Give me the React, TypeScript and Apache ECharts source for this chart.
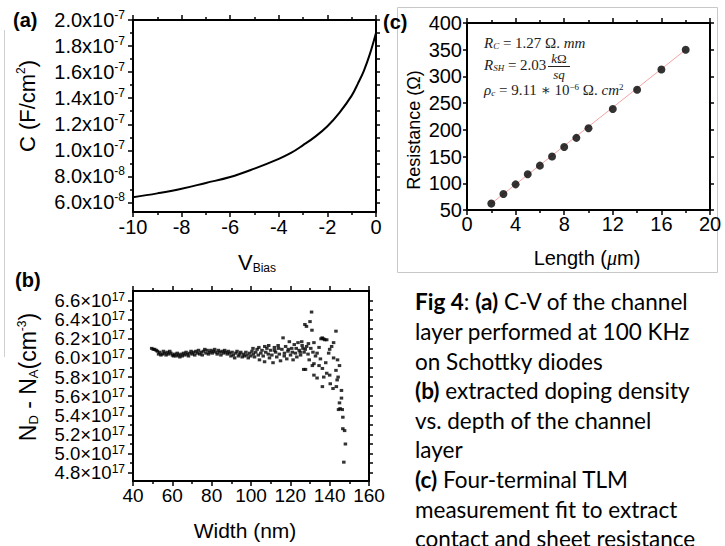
import React, { useEffect, useRef } from "react";
import * as echarts from "echarts";

// (a) C-V curve, capacitance in units of 1e-8 F/cm²
const biasVoltage = [-10, -9, -8, -7, -6, -5, -4, -3.5, -3, -2.5, -2, -1.5, -1, -0.75, -0.5, -0.25, 0];
const capacitance = [6.4, 6.7, 7.05, 7.5, 7.95, 8.6, 9.35, 9.8, 10.4, 11.05, 11.85, 12.9, 14.2, 15.1, 16.1, 17.4, 19.0];
const capTicks = [6, 8, 10, 12, 14, 16, 18, 20];
const capMinorTicks = [7, 9, 11, 13, 15, 17, 19];
const capAllTicks = [6, 7, 8, 9, 10, 11, 12, 13, 14, 15, 16, 17, 18, 19, 20];

// (b) doping profile: [width nm, N_D - N_A in 1e17 cm^-3]
const dopingPoints: [number, number][] = [
  [49.5, 6.10], [50.3, 6.09], [51.0, 6.09], [51.8, 6.08], [52.4, 6.07], [53.0, 6.04], [53.6, 6.06], [54.2, 6.03],
  [54.9, 6.04], [55.5, 6.07], [56.1, 6.05], [56.8, 6.03], [57.4, 6.06], [58.0, 6.04], [58.7, 6.07], [59.3, 6.05],
  [60.0, 6.03], [60.6, 6.02], [61.2, 6.04], [61.9, 6.02], [62.5, 6.05], [63.1, 6.03], [63.8, 6.01], [64.4, 6.04],
  [65.0, 6.02], [65.7, 6.05], [66.3, 6.03], [67.0, 6.06], [67.6, 6.04], [68.2, 6.02], [68.9, 6.05], [69.5, 6.07],
  [70.1, 6.04], [70.8, 6.06], [71.4, 6.03], [72.0, 6.07], [72.7, 6.05], [73.3, 6.08], [73.9, 6.04], [74.6, 6.06],
  [75.2, 6.03], [75.8, 6.07], [76.5, 6.09], [77.1, 6.05], [77.7, 6.08], [78.4, 6.04], [79.0, 6.06], [79.6, 6.08],
  [80.3, 6.05], [80.9, 6.07], [81.5, 6.09], [82.2, 6.06], [82.8, 6.04], [83.4, 6.08], [84.1, 6.06], [84.7, 6.03],
  [85.3, 6.07], [86.0, 6.05], [86.6, 6.08], [87.2, 6.06], [87.9, 6.04], [88.5, 6.07], [89.1, 6.05], [89.8, 6.02],
  [90.4, 6.06], [91.0, 6.03], [91.7, 6.00], [92.3, 6.05], [92.9, 6.07], [93.6, 6.02], [94.2, 6.04], [94.8, 6.06],
  [95.5, 6.01], [96.1, 6.04], [96.7, 6.02], [97.4, 6.06], [98.0, 6.03], [98.6, 6.00], [99.3, 6.05], [99.9, 6.02],
  [100.5, 6.07], [101.2, 6.04], [101.8, 6.01], [102.4, 6.06], [103.1, 6.09], [103.7, 6.03], [104.3, 5.98], [105.0, 6.05],
  [105.6, 6.08], [106.2, 6.02], [106.9, 5.96], [107.5, 6.06], [108.1, 6.10], [108.8, 6.04], [109.4, 6.00], [110.0, 6.08],
  [101.0, 6.10], [104.0, 6.11], [107.0, 6.12], [109.0, 6.13],
  [110.6, 6.03], [111.2, 5.95], [111.9, 6.11], [112.5, 6.06], [113.1, 6.01], [113.8, 6.13], [114.4, 6.04], [115.0, 5.97],
  [115.7, 6.09], [116.3, 6.21], [116.9, 6.02], [117.6, 6.12], [118.2, 5.99], [118.8, 6.07], [119.5, 6.17], [120.1, 6.03],
  [120.7, 6.10], [121.4, 5.98], [122.0, 6.14], [122.6, 6.05], [123.3, 6.01], [123.9, 6.16], [124.5, 6.08], [125.2, 6.03],
  [125.8, 6.17], [126.4, 6.10], [127.0, 6.06], [127.7, 5.88], [128.3, 6.12],
  [112.0, 6.08], [114.0, 6.10], [117.0, 6.05], [119.0, 6.09], [121.0, 6.06], [123.0, 6.10], [125.0, 6.06], [126.8, 5.88],
  [127.4, 6.35], [128.2, 6.33], [129.0, 6.04], [129.6, 5.98], [130.0, 6.38], [130.8, 6.48], [131.0, 6.29], [131.5, 6.06],
  [132.0, 6.16], [132.0, 5.94], [132.0, 5.82], [132.8, 6.02], [133.6, 6.05], [133.6, 5.79], [134.6, 6.11], [134.6, 5.92],
  [135.3, 5.99], [135.6, 6.20], [136.2, 6.21], [136.9, 6.20], [136.3, 5.89], [136.3, 5.70], [137.0, 5.80], [137.5, 6.19],
  [138.0, 5.95], [138.5, 6.19], [138.5, 5.84], [139.5, 6.05], [140.0, 6.09], [140.0, 5.82], [140.3, 5.73], [141.0, 6.12],
  [141.7, 5.68], [142.0, 6.16], [142.0, 6.00], [143.2, 6.28], [143.2, 5.87], [143.4, 5.70], [143.8, 5.77], [144.3, 5.80],
  [144.0, 5.98], [145.0, 5.92], [144.5, 5.46], [145.0, 5.53], [145.3, 5.47], [146.0, 5.58], [146.0, 5.66], [146.4, 5.46],
  [146.7, 5.38], [146.7, 5.26], [147.6, 5.24], [148.0, 5.10], [147.2, 4.91],
  [126.0, 6.13], [127.6, 6.09], [129.2, 6.15], [130.4, 6.10], [131.2, 5.92],
];
// tick labels split in two alternating sets so the tightly packed labels all show
const dopingTicksA = [4.8, 5.2, 5.6, 6.0, 6.4];
const dopingTicksB = [5.0, 5.4, 5.8, 6.2, 6.6];
const dopingTicks = [4.8, 5.0, 5.2, 5.4, 5.6, 5.8, 6.0, 6.2, 6.4, 6.6];
const dopingMinorTicks = [4.9, 5.1, 5.3, 5.5, 5.7, 5.9, 6.1, 6.3, 6.5];
const dopingAllTicks = [4.8, 4.9, 5.0, 5.1, 5.2, 5.3, 5.4, 5.5, 5.6, 5.7, 5.8, 5.9, 6.0, 6.1, 6.2, 6.3, 6.4, 6.5, 6.6];

// (c) TLM
const tlmLength = [2, 3, 4, 5, 6, 7, 8, 9, 10, 12, 14, 16, 18];
const tlmResistance = [62, 80, 98, 117, 133, 150, 168, 185, 203, 239, 275, 313, 350];
const fitLength = [2, 18];
const fitResistance = [62, 350];

const captionLines = [
  "{b|Fig 4}{n|: }{b|(a)}{n| C-V of the channel}",
  "{n|layer performed at 100 KHz}",
  "{n|on Schottky diodes}",
  "{b|(b)}{n| extracted doping density}",
  "{n|vs. depth of the channel}",
  "{n|layer}",
  "{b|(c)}{n| Four-terminal TLM}",
  "{n|measurement fit to extract}",
  "{n|contact and sheet resistance}",
];

const FONT = "'Liberation Sans', Arial, sans-serif";
const SERIF = "'Liberation Serif', 'DejaVu Serif', serif";
const CAP_FONT = "Lato, 'Open Sans', sans-serif";

const lineStyleBlack = { color: "#000", width: 2 };

function xAx(grid: number, min: number, max: number, interval: number, top: boolean, fontSize: number, margin: number) {
  return {
    type: "value",
    gridIndex: grid,
    min,
    max,
    interval,
    position: top ? "top" : "bottom",
    axisLine: { show: true, onZero: false, lineStyle: lineStyleBlack },
    axisTick: { show: true, length: 5, lineStyle: { color: "#000", width: 1.5 } },
    minorTick: { show: true, splitNumber: 2, length: 3, lineStyle: { color: "#000", width: 1.5 } },
    axisLabel: { show: !top, color: "#000", fontSize, fontFamily: FONT, margin, showMinLabel: true, showMaxLabel: true },
    splitLine: { show: false },
    minorSplitLine: { show: false },
  };
}

function yAx(grid: number, min: number, max: number, opts: any) {
  return {
    type: "value",
    gridIndex: grid,
    min,
    max,
    position: opts.right ? "right" : "left",
    axisLine: { show: opts.line !== false, onZero: false, lineStyle: lineStyleBlack },
    axisTick: {
      show: opts.tick !== false,
      length: opts.tickLen ?? 5,
      customValues: opts.ticks,
      lineStyle: { color: "#000", width: 1.5 },
    },
    axisLabel: opts.label
      ? {
          show: true,
          customValues: opts.labels ?? opts.ticks,
          margin: opts.margin ?? 8,
          formatter: opts.formatter,
          rich: opts.rich,
          color: "#000",
          fontFamily: FONT,
          showMinLabel: true,
          showMaxLabel: true,
          hideOverlap: false,
        }
      : { show: false },
    splitLine: { show: false },
  };
}

const capRich = {
  b: { fontSize: 20, fontFamily: FONT, color: "#000", lineHeight: 22 },
  s: { fontSize: 12, fontFamily: FONT, color: "#000", verticalAlign: "top", lineHeight: 12 },
};
const dopRich = {
  b: { fontSize: 18.5, fontFamily: FONT, color: "#000", lineHeight: 19 },
  s: { fontSize: 12, fontFamily: FONT, color: "#000", verticalAlign: "top", lineHeight: 12 },
};
const dopFormatter = (v: number) => `{b|${v.toFixed(1)}×10}{s|17}`;

export default function App() {
  const ref = useRef<HTMLDivElement>(null);
  useEffect(() => {
    document.body.style.margin = "0";
    const chart = echarts.init(ref.current!, null, { renderer: "svg" });
    const option: any = {
      animation: false,
      backgroundColor: "#fff",
      grid: [
        { left: 133, top: 20, width: 243, height: 192, outerBoundsMode: "none" },
        { left: 133, top: 291, width: 236, height: 190, outerBoundsMode: "none" },
        { left: 467, top: 23, width: 243, height: 187, outerBoundsMode: "none" },
      ],
      xAxis: [
        xAx(0, -10, 0, 2, false, 20, 5),
        xAx(0, -10, 0, 2, true, 20, 5),
        xAx(1, 40, 160, 20, false, 19, 5),
        xAx(1, 40, 160, 20, true, 19, 5),
        xAx(2, 0, 20, 4, false, 20, 4),
        xAx(2, 0, 20, 4, true, 20, 4),
      ],
      yAxis: [
        yAx(0, 5.27, 20, {
          ticks: capTicks,
          label: true,
          rich: capRich,
          formatter: (v: number) =>
            v >= 10 ? `{b|${(v / 10).toFixed(1)}x10}{s|-7}` : `{b|${v.toFixed(1)}x10}{s|-8}`,
        }),
        yAx(0, 5.27, 20, { ticks: capMinorTicks, line: false, tickLen: 3 }),
        yAx(0, 5.27, 20, { ticks: capAllTicks, right: true, tickLen: 4 }),
        yAx(1, 4.713, 6.7, {
          ticks: dopingTicks,
          labels: dopingTicksA,
          label: true,
          rich: dopRich,
          formatter: dopFormatter,
        }),
        yAx(1, 4.713, 6.7, { ticks: dopingMinorTicks, line: false, tickLen: 3 }),
        yAx(1, 4.713, 6.7, { ticks: dopingAllTicks, right: true, tickLen: 4 }),
        yAx(1, 4.713, 6.7, {
          ticks: dopingTicks,
          labels: dopingTicksB,
          line: false,
          tick: false,
          label: true,
          rich: dopRich,
          formatter: dopFormatter,
        }),
        {
          type: "value",
          gridIndex: 2,
          min: 50,
          max: 400,
          interval: 50,
          position: "left",
          axisLine: { show: true, onZero: false, lineStyle: lineStyleBlack },
          axisTick: { show: true, length: 4, lineStyle: { color: "#000", width: 1.5 } },
          axisLabel: { color: "#000", fontSize: 20, fontFamily: FONT, margin: 5, showMinLabel: true, showMaxLabel: true },
          splitLine: { show: false },
        },
        {
          type: "value",
          gridIndex: 2,
          min: 50,
          max: 400,
          interval: 50,
          position: "right",
          axisLine: { show: true, onZero: false, lineStyle: lineStyleBlack },
          axisTick: { show: true, length: 4, lineStyle: { color: "#000", width: 1.5 } },
          axisLabel: { show: false },
          splitLine: { show: false },
        },
      ],
      series: [
        {
          type: "line",
          xAxisIndex: 0,
          yAxisIndex: 0,
          data: biasVoltage.map((v, i) => [v, capacitance[i]]),
          smooth: 0.4,
          showSymbol: false,
          lineStyle: { color: "#000", width: 2 },
          itemStyle: { color: "#000" },
        },
        {
          type: "scatter",
          xAxisIndex: 2,
          yAxisIndex: 3,
          data: dopingPoints,
          symbol: "rect",
          symbolSize: [3.5, 3],
          itemStyle: { color: "#000" },
        },
        {
          type: "line",
          xAxisIndex: 4,
          yAxisIndex: 7,
          data: fitLength.map((v, i) => [v, fitResistance[i]]),
          showSymbol: false,
          lineStyle: { color: "#f4a3a3", width: 1 },
          itemStyle: { color: "#f4a3a3" },
        },
        {
          type: "scatter",
          xAxisIndex: 4,
          yAxisIndex: 7,
          data: tlmLength.map((v, i) => [v, tlmResistance[i]]),
          symbol: "circle",
          symbolSize: 8,
          itemStyle: { color: "#000" },
          z: 5,
        },
      ],
      graphic: [
        { type: "rect", shape: { x: 397.5, y: 7.5, width: 320, height: 265 }, style: { fill: "none", stroke: "#c8c8c8", lineWidth: 1 } },
        { type: "line", shape: { x1: 4.5, y1: 30, x2: 4.5, y2: 357 }, style: { stroke: "#d0d0d0", lineWidth: 1 } },
        { type: "text", x: 13, y: 20, style: { text: "(a)", fontSize: 20, fontWeight: "bold", fontFamily: FONT, fill: "#000", verticalAlign: "middle" } },
        { type: "text", x: 15, y: 280, style: { text: "(b)", fontSize: 20, fontWeight: "bold", fontFamily: FONT, fill: "#000", verticalAlign: "middle" } },
        { type: "text", x: 383, y: 22, style: { text: "(c)", fontSize: 20, fontWeight: "bold", fontFamily: FONT, fill: "#000", verticalAlign: "middle" } },
        {
          type: "text", x: 27, y: 106, rotation: Math.PI / 2,
          style: {
            text: "{b|C (F/cm}{s|2}{b|)}", align: "center", verticalAlign: "middle",
            rich: { b: { fontSize: 22, fontFamily: FONT, fill: "#000", lineHeight: 24 }, s: { fontSize: 12, fontFamily: FONT, fill: "#000", verticalAlign: "top", lineHeight: 12 } },
          },
        },
        {
          type: "text", x: 257, y: 262,
          style: {
            text: "{v|V}{s|Bias}", align: "center", verticalAlign: "middle",
            rich: { v: { fontSize: 22, fontFamily: FONT, fill: "#000", lineHeight: 24 }, s: { fontSize: 12, fontFamily: FONT, fill: "#000", verticalAlign: "bottom", lineHeight: 12 } },
          },
        },
        {
          type: "text", x: 28, y: 377, rotation: Math.PI / 2,
          style: {
            text: "{b|N}{d|D}{b| - N}{d|A}{b|(cm}{s|-3}{b|)}", align: "center", verticalAlign: "middle",
            rich: {
              b: { fontSize: 23, fontFamily: FONT, fill: "#000", lineHeight: 24 },
              d: { fontSize: 13, fontFamily: FONT, fill: "#000", verticalAlign: "bottom", lineHeight: 13 },
              s: { fontSize: 12, fontFamily: FONT, fill: "#000", verticalAlign: "top", lineHeight: 12 },
            },
          },
        },
        { type: "text", x: 245, y: 530, style: { text: "Width (nm)", fontSize: 21, fontFamily: FONT, fill: "#000", align: "center", verticalAlign: "middle" } },
        { type: "text", x: 414, y: 130, rotation: Math.PI / 2, style: { text: "Resistance (Ω)", fontSize: 18, fontFamily: FONT, fill: "#000", align: "center", verticalAlign: "middle" } },
        {
          type: "text", x: 587, y: 258,
          style: {
            text: "{n|Length (}{i|μ}{n|m)}", align: "center", verticalAlign: "middle",
            rich: { n: { fontSize: 20, fontFamily: FONT, fill: "#000" }, i: { fontSize: 20, fontFamily: SERIF, fontStyle: "italic", fill: "#000" } },
          },
        },
        {
          type: "text", x: 484, y: 43,
          style: {
            text: "{i|R}{d|C}{n| = 1.27 Ω. }{i|mm}", verticalAlign: "middle",
            rich: {
              i: { fontSize: 15, fontFamily: SERIF, fontStyle: "italic", fill: "#222" },
              n: { fontSize: 15, fontFamily: SERIF, fill: "#222" },
              d: { fontSize: 9, fontFamily: SERIF, fontStyle: "italic", fill: "#222", verticalAlign: "bottom" },
            },
          },
        },
        {
          type: "text", x: 484, y: 65,
          style: {
            text: "{i|R}{d|SH}{n| = 2.03}", verticalAlign: "middle",
            rich: {
              i: { fontSize: 15, fontFamily: SERIF, fontStyle: "italic", fill: "#222" },
              n: { fontSize: 15, fontFamily: SERIF, fill: "#222" },
              d: { fontSize: 9, fontFamily: SERIF, fontStyle: "italic", fill: "#222", verticalAlign: "bottom" },
            },
          },
        },
        {
          type: "text", x: 559, y: 58,
          style: {
            text: "{i|k}{n|Ω}", align: "center", verticalAlign: "middle",
            rich: {
              i: { fontSize: 13, fontFamily: SERIF, fontStyle: "italic", fill: "#222" },
              n: { fontSize: 13, fontFamily: SERIF, fill: "#222" },
            },
          },
        },
        { type: "line", shape: { x1: 548, y1: 66.5, x2: 570, y2: 66.5 }, style: { stroke: "#222", lineWidth: 1 } },
        { type: "text", x: 559, y: 74.5, style: { text: "sq", fontSize: 13, fontFamily: SERIF, fontStyle: "italic", fill: "#222", align: "center", verticalAlign: "middle" } },
        {
          type: "text", x: 484, y: 90,
          style: {
            text: "{i|ρ}{d|c}{n| = 9.11 ∗ 10}{s|−6}{n| Ω. }{i|cm}{s|2}", verticalAlign: "middle",
            rich: {
              i: { fontSize: 15, fontFamily: SERIF, fontStyle: "italic", fill: "#222" },
              n: { fontSize: 15, fontFamily: SERIF, fill: "#222" },
              d: { fontSize: 9, fontFamily: SERIF, fontStyle: "italic", fill: "#222", verticalAlign: "bottom" },
              s: { fontSize: 9, fontFamily: SERIF, fill: "#222", verticalAlign: "top" },
            },
          },
        },
        {
          type: "text", x: 415, y: 287,
          style: {
            text: captionLines.join("\n"),
            rich: {
              b: { fontSize: 22.5, fontFamily: CAP_FONT, fontWeight: "bold", fill: "#000", lineHeight: 29.6 },
              n: { fontSize: 22.5, fontFamily: CAP_FONT, fill: "#000", lineHeight: 29.6 },
            },
          },
        },
      ],
    };
    chart.setOption(option);
    return () => chart.dispose();
  }, []);
  return <div ref={ref} style={{ width: 725, height: 546 }} />;
}
